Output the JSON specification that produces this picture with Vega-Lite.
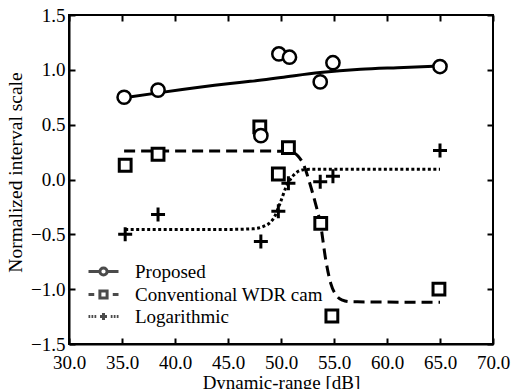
{
  "$schema": "https://vega.github.io/schema/vega-lite/v6.json",
  "width": 424,
  "height": 329,
  "autosize": {"type": "none"},
  "padding": {"left": 69, "top": 15, "right": 22, "bottom": 45},
  "background": "white",
  "config": {
    "view": {"stroke": "black", "strokeWidth": 2},
    "font": "Liberation Serif",
    "axis": {
      "grid": false,
      "domainColor": "black",
      "domainWidth": 2,
      "tickColor": "black",
      "tickWidth": 2,
      "tickSize": -6,
      "labelFont": "Liberation Serif",
      "labelFontSize": 19,
      "labelColor": "black",
      "titleFont": "Liberation Serif",
      "titleFontSize": 19,
      "titleFontWeight": "normal",
      "titleColor": "black",
      "labelFlush": false,
      "labelOverlap": false
    }
  },
  "datasets": {
    "pts": [
      {"series": "Conventional WDR cam", "x": 35.3, "y": 0.13},
      {"series": "Conventional WDR cam", "x": 38.4, "y": 0.23},
      {"series": "Conventional WDR cam", "x": 48.0, "y": 0.48},
      {"series": "Conventional WDR cam", "x": 49.75, "y": 0.05},
      {"series": "Conventional WDR cam", "x": 50.7, "y": 0.29},
      {"series": "Conventional WDR cam", "x": 53.75, "y": -0.4},
      {"series": "Conventional WDR cam", "x": 54.8, "y": -1.245},
      {"series": "Conventional WDR cam", "x": 64.9, "y": -1.0},
      {"series": "Logarithmic", "x": 35.3, "y": -0.5},
      {"series": "Logarithmic", "x": 38.4, "y": -0.32},
      {"series": "Logarithmic", "x": 48.1, "y": -0.565},
      {"series": "Logarithmic", "x": 49.75, "y": -0.29},
      {"series": "Logarithmic", "x": 50.7, "y": -0.035},
      {"series": "Logarithmic", "x": 53.7, "y": -0.02},
      {"series": "Logarithmic", "x": 54.9, "y": 0.03},
      {"series": "Logarithmic", "x": 65.0, "y": 0.265},
      {"series": "Proposed", "x": 35.2, "y": 0.75},
      {"series": "Proposed", "x": 38.4, "y": 0.815},
      {"series": "Proposed", "x": 48.1, "y": 0.4},
      {"series": "Proposed", "x": 49.8, "y": 1.145},
      {"series": "Proposed", "x": 50.8, "y": 1.115},
      {"series": "Proposed", "x": 53.7, "y": 0.89},
      {"series": "Proposed", "x": 54.9, "y": 1.065},
      {"series": "Proposed", "x": 65.0, "y": 1.03}
    ],
    "fit": [
      {"series": "Proposed", "x": 35.2, "y": 0.745},
      {"series": "Proposed", "x": 38.4, "y": 0.79},
      {"series": "Proposed", "x": 45.2, "y": 0.875},
      {"series": "Proposed", "x": 47.1, "y": 0.895},
      {"series": "Proposed", "x": 50.0, "y": 0.93},
      {"series": "Proposed", "x": 53.7, "y": 0.975},
      {"series": "Proposed", "x": 57.5, "y": 1.005},
      {"series": "Proposed", "x": 61.0, "y": 1.02},
      {"series": "Proposed", "x": 65.0, "y": 1.035},
      {"series": "Conventional WDR cam", "x": 35.2, "y": 0.26},
      {"series": "Conventional WDR cam", "x": 48.0, "y": 0.26},
      {"series": "Conventional WDR cam", "x": 50.0, "y": 0.258},
      {"series": "Conventional WDR cam", "x": 51.0, "y": 0.25},
      {"series": "Conventional WDR cam", "x": 51.6, "y": 0.215},
      {"series": "Conventional WDR cam", "x": 52.2, "y": 0.12},
      {"series": "Conventional WDR cam", "x": 52.7, "y": -0.03},
      {"series": "Conventional WDR cam", "x": 53.2, "y": -0.2},
      {"series": "Conventional WDR cam", "x": 53.75, "y": -0.42},
      {"series": "Conventional WDR cam", "x": 54.2, "y": -0.72},
      {"series": "Conventional WDR cam", "x": 54.7, "y": -0.95},
      {"series": "Conventional WDR cam", "x": 55.25, "y": -1.06},
      {"series": "Conventional WDR cam", "x": 55.8, "y": -1.1},
      {"series": "Conventional WDR cam", "x": 56.5, "y": -1.115},
      {"series": "Conventional WDR cam", "x": 65.0, "y": -1.12},
      {"series": "Logarithmic", "x": 35.3, "y": -0.455},
      {"series": "Logarithmic", "x": 45.0, "y": -0.455},
      {"series": "Logarithmic", "x": 47.3, "y": -0.45},
      {"series": "Logarithmic", "x": 48.3, "y": -0.43},
      {"series": "Logarithmic", "x": 49.3, "y": -0.355},
      {"series": "Logarithmic", "x": 49.9, "y": -0.22},
      {"series": "Logarithmic", "x": 50.5, "y": -0.065},
      {"series": "Logarithmic", "x": 51.2, "y": 0.04},
      {"series": "Logarithmic", "x": 52.0, "y": 0.087},
      {"series": "Logarithmic", "x": 52.7, "y": 0.093},
      {"series": "Logarithmic", "x": 65.0, "y": 0.093}
    ]
  },
  "resolve": {"axis": {"x": "independent", "y": "independent"}},
  "layer": [
    {
      "data": {"name": "fit"},
      "transform": [{"filter": "datum.series === 'Proposed'"}],
      "mark": {"type": "line", "color": "black", "strokeWidth": 3, "interpolate": "monotone", "strokeCap": "butt"},
      "encoding": {
        "x": {
          "field": "x", "type": "quantitative",
          "scale": {"domain": [30, 70], "nice": false, "zero": false},
          "axis": {"orient": "bottom", "values": [30, 35, 40, 45, 50, 55, 60, 65, 70], "format": ".1f", "labelPadding": 15, "title": "Dynamic-range [dB]", "titlePadding": 1}
        },
        "y": {
          "field": "y", "type": "quantitative",
          "scale": {"domain": [-1.5, 1.5], "nice": false, "zero": false},
          "axis": {"orient": "left", "values": [-1.5, -1.0, -0.5, 0, 0.5, 1.0, 1.5], "format": ".1f", "labelPadding": 10, "title": "Normalized interval scale", "titlePadding": 5, "titleFontSize": 19.5, "titleY": 157}
        }
      }
    },
    {
      "data": {"name": "fit"},
      "transform": [{"filter": "datum.series === 'Conventional WDR cam'"}],
      "mark": {"type": "line", "color": "black", "strokeWidth": 3, "interpolate": "monotone", "strokeCap": "butt", "strokeDash": [11, 6]},
      "encoding": {
        "x": {"field": "x", "type": "quantitative", "axis": null},
        "y": {"field": "y", "type": "quantitative", "axis": null}
      }
    },
    {
      "data": {"name": "fit"},
      "transform": [{"filter": "datum.series === 'Logarithmic'"}],
      "mark": {"type": "line", "color": "black", "strokeWidth": 3, "interpolate": "monotone", "strokeCap": "butt", "strokeDash": [3, 2.5]},
      "encoding": {
        "x": {"field": "x", "type": "quantitative", "axis": null},
        "y": {"field": "y", "type": "quantitative", "axis": null}
      }
    },
    {
      "data": {"name": "pts"},
      "transform": [{"filter": "datum.series === 'Conventional WDR cam'"}],
      "mark": {"type": "point", "shape": "square", "filled": true, "fill": "white", "stroke": "black", "strokeWidth": 3, "size": 140, "opacity": 1},
      "encoding": {
        "x": {"field": "x", "type": "quantitative", "axis": null},
        "y": {"field": "y", "type": "quantitative", "axis": null}
      }
    },
    {
      "data": {"name": "pts"},
      "transform": [{"filter": "datum.series === 'Logarithmic'"}],
      "mark": {"type": "point", "shape": "M-1,0H1M0,-1V1", "filled": false, "stroke": "black", "strokeWidth": 3, "strokeCap": "butt", "size": 196, "opacity": 1},
      "encoding": {
        "x": {"field": "x", "type": "quantitative", "axis": null},
        "y": {"field": "y", "type": "quantitative", "axis": null}
      }
    },
    {
      "data": {"name": "pts"},
      "transform": [{"filter": "datum.series === 'Proposed'"}],
      "mark": {"type": "point", "shape": "circle", "filled": true, "fill": "white", "stroke": "black", "strokeWidth": 2.5, "size": 175, "opacity": 1},
      "encoding": {
        "x": {"field": "x", "type": "quantitative", "axis": null},
        "y": {"field": "y", "type": "quantitative", "axis": null}
      }
    },
    {
      "data": {"name": "pts"},
      "transform": [{"filter": "datum.x > 1000"}],
      "mark": {"type": "point", "filled": true, "fill": "white", "stroke": "black", "strokeWidth": 3, "size": 256},
      "encoding": {
        "x": {
          "field": "x", "type": "quantitative",
          "axis": {"orient": "top", "values": [30, 35, 40, 45, 50, 55, 60, 65, 70], "labels": false, "domain": false, "title": null}
        },
        "y": {
          "field": "y", "type": "quantitative",
          "axis": {"orient": "right", "values": [-1.5, -1.0, -0.5, 0, 0.5, 1.0, 1.5], "labels": false, "domain": false, "title": null}
        },
        "shape": {
          "field": "series", "type": "nominal",
          "scale": {
            "domain": ["Proposed", "Conventional WDR cam", "Logarithmic"],
            "range": [
              "M-3,0H-0.72M0.72,0H3M-0.72,0A0.72,0.72 0 1,0 0.72,0A0.72,0.72 0 1,0 -0.72,0",
              "M-3,0H-1.85M1.85,0H3M-0.72,-0.72H0.72V0.72H-0.72Z",
              "M-3,0H-2.65M-2.4,0H-2.05M-1.8,0H-1.45M1.45,0H1.8M2.05,0H2.4M2.65,0H3M-0.7,0H0.7M0,-0.7V0.7"
            ]
          },
          "legend": {
            "orient": "none", "legendX": 25, "legendY": 247, "title": null,
            "labelFontSize": 19, "labelOffset": 22, "labelLimit": 400, "symbolStrokeWidth": 3
          }
        }
      }
    }
  ]
}
